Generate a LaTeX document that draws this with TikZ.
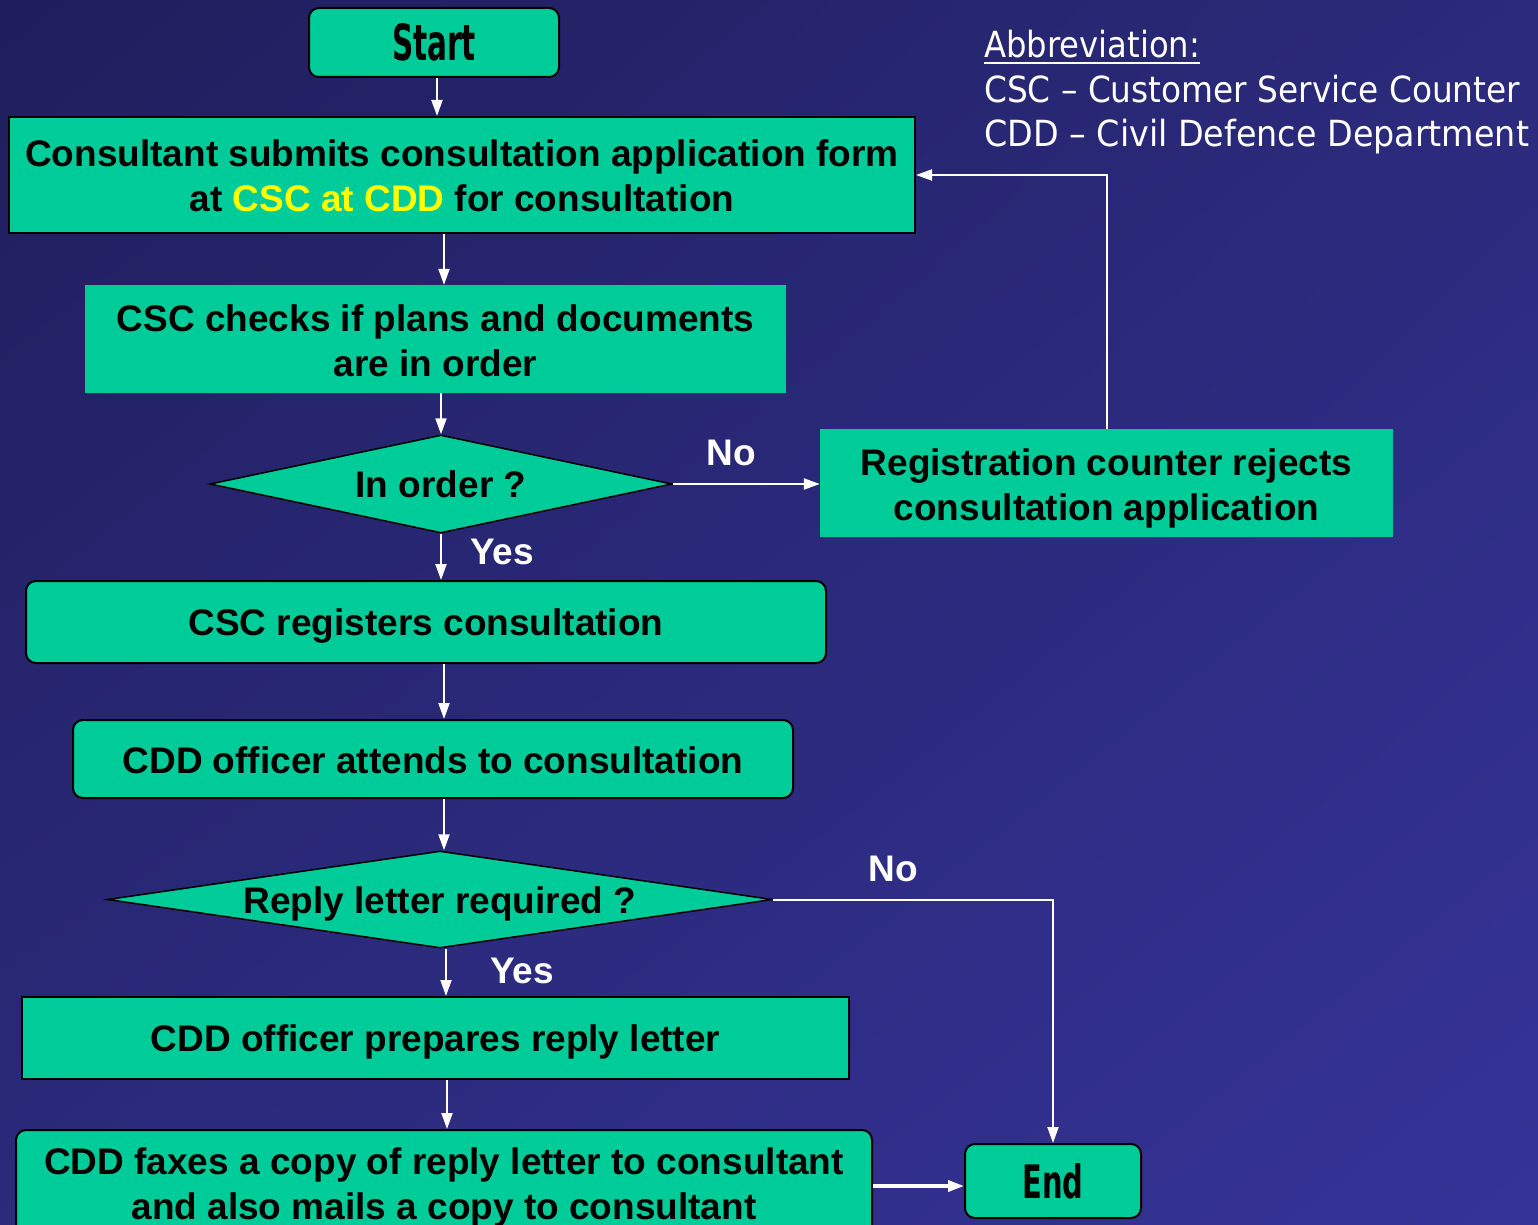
\documentclass[tikz,border=0pt]{standalone}
\usepackage{fontspec}
\setmainfont{Liberation Sans}
\newfontfamily\abbrfont{DejaVu Sans}
\newfontfamily\heavyfont{DejaVu Sans}
\usetikzlibrary{arrows.meta,shapes.geometric,shadings}
\definecolor{boxgreen}{HTML}{00CC99}
\definecolor{bgTL}{HTML}{1F1E5C}
\definecolor{bgMID}{HTML}{2B2A7B}
\definecolor{bgBR}{HTML}{363399}
\definecolor{hiyellow}{HTML}{FFFF00}
\newcommand{\toppad}[1]{\rule{0pt}{#1}}
\tikzset{
  x=1pt, y=-1pt,
  basebox/.style={fill=boxgreen, inner sep=0pt, align=center,
    font=\bfseries\fontsize{37}{45}\selectfont, text=black},
  sqbox/.style={basebox, draw=black, line width=2pt},
  rdbox/.style={basebox, draw=black, line width=2pt, rounded corners=10pt},
  flatbox/.style={basebox, draw=none},
  decision/.style={basebox, shape=diamond, draw=black, line width=1.5pt},
  arr/.style={draw=white, line width=2pt, -{Triangle[length=16pt,width=11pt]}},
  lbl/.style={text=white, font=\bfseries\fontsize{37}{45}\selectfont, inner sep=0pt},
  abbr/.style={text=white, anchor=base west, inner sep=0pt, font=\abbrfont\fontsize{36}{44}\selectfont}
}
\begin{document}
\begin{tikzpicture}
\useasboundingbox (0,0) rectangle (1538,1225);
\shade[upper left=bgTL, upper right=bgMID, lower left=bgMID, lower right=bgBR] (0,0) rectangle (1538,1225);

% nodes
\node[rdbox, minimum width=250pt, minimum height=69pt] (start) at (434,42.5)
  {\heavyfont\resizebox{84pt}{37pt}{\bfseries Start}};
\node[sqbox, minimum width=906pt, minimum height=116pt] (submit) at (462,175)
  {\toppad{29pt}Consultant submits consultation application form\\at \textcolor{hiyellow}{CSC at CDD} for consultation};
\node[flatbox, minimum width=701pt, minimum height=108pt] (check) at (435.5,339)
  {\toppad{31pt}CSC checks if plans and documents\\are in order};
\node[decision, aspect=4.71, minimum width=462pt, minimum height=98pt] (inorder) at (441,484) {In order ?};
\node[flatbox, minimum width=573pt, minimum height=108pt] (reject) at (1106.5,483)
  {\toppad{37pt}Registration counter rejects\\consultation application};
\node[rdbox, minimum width=800pt, minimum height=82pt, text height=35pt] (register) at (426,622)
  {CSC registers consultation};
\node[rdbox, minimum width=720pt, minimum height=78pt, text height=29pt] (attend) at (433,759)
  {CDD officer attends to consultation};
\node[decision, aspect=6.86, inner ysep=-4pt, minimum width=665pt, minimum height=97pt] (reply) at (440,899.5)
  {\toppad{35pt}Reply letter required ?};
\node[sqbox, minimum width=827pt, minimum height=82pt, text height=35pt] (prepare) at (435.5,1038)
  {CDD officer prepares reply letter};
\node[rdbox, minimum width=856pt, minimum height=110pt] (fax) at (444,1185)
  {\toppad{31pt}CDD faxes a copy of reply letter to consultant\\and also mails a copy to consultant};
\node[rdbox, minimum width=176pt, minimum height=74pt] (end) at (1053,1181)
  {\heavyfont\resizebox{61pt}{35pt}{\bfseries End}};

% labels
\node[lbl] (no1) at (731,453) {No};
\node[lbl] (yes1) at (502,552) {Yes};
\node[lbl] (no2) at (893,869) {No};
\node[lbl] (yes2) at (522,971) {Yes};

% abbreviation
\node[abbr] (abbrhead) at (984,58) {\resizebox{216pt}{\height}{Abbreviation:}};
\draw[white, line width=2pt] (abbrhead.base west) ++(0,5) coordinate (ul1) -- (abbrhead.base east |- ul1);
\node[abbr] (abbrcsc) at (984,103) {\resizebox{536pt}{\height}{CSC – Customer Service Counter}};
\node[abbr] (abbrcdd) at (984,147) {\resizebox{545pt}{\height}{CDD – Civil Defence Department}};

% connectors
\draw[arr] (start.south -| 437,0) -- (submit.north -| 437,0);
\draw[arr] (submit.south -| 444,0) -- (check.north -| 444,0);
\draw[arr] (check.south -| 441,0) -- (inorder.north);
\draw[arr] (inorder.east) -- (reject.west |- inorder.east);
\draw[arr] (reject.north -| 1107,0) |- (submit.east);
\draw[arr] (inorder.south) -- (register.north -| inorder.south);
\draw[arr] (register.south -| 444,0) -- (attend.north -| 444,0);
\draw[arr] (attend.south -| 444,0) -- (reply.north -| 444,0);
\draw[arr] (reply.east) -| (end.north);
\draw[arr] (reply.south -| 446,0) -- (prepare.north -| 446,0);
\draw[arr] (prepare.south -| 447,0) -- (fax.north -| 447,0);
\draw[arr, line width=3.5pt] (fax.east |- 0,1186) -- (end.west |- 0,1186);
\end{tikzpicture}
\end{document}
